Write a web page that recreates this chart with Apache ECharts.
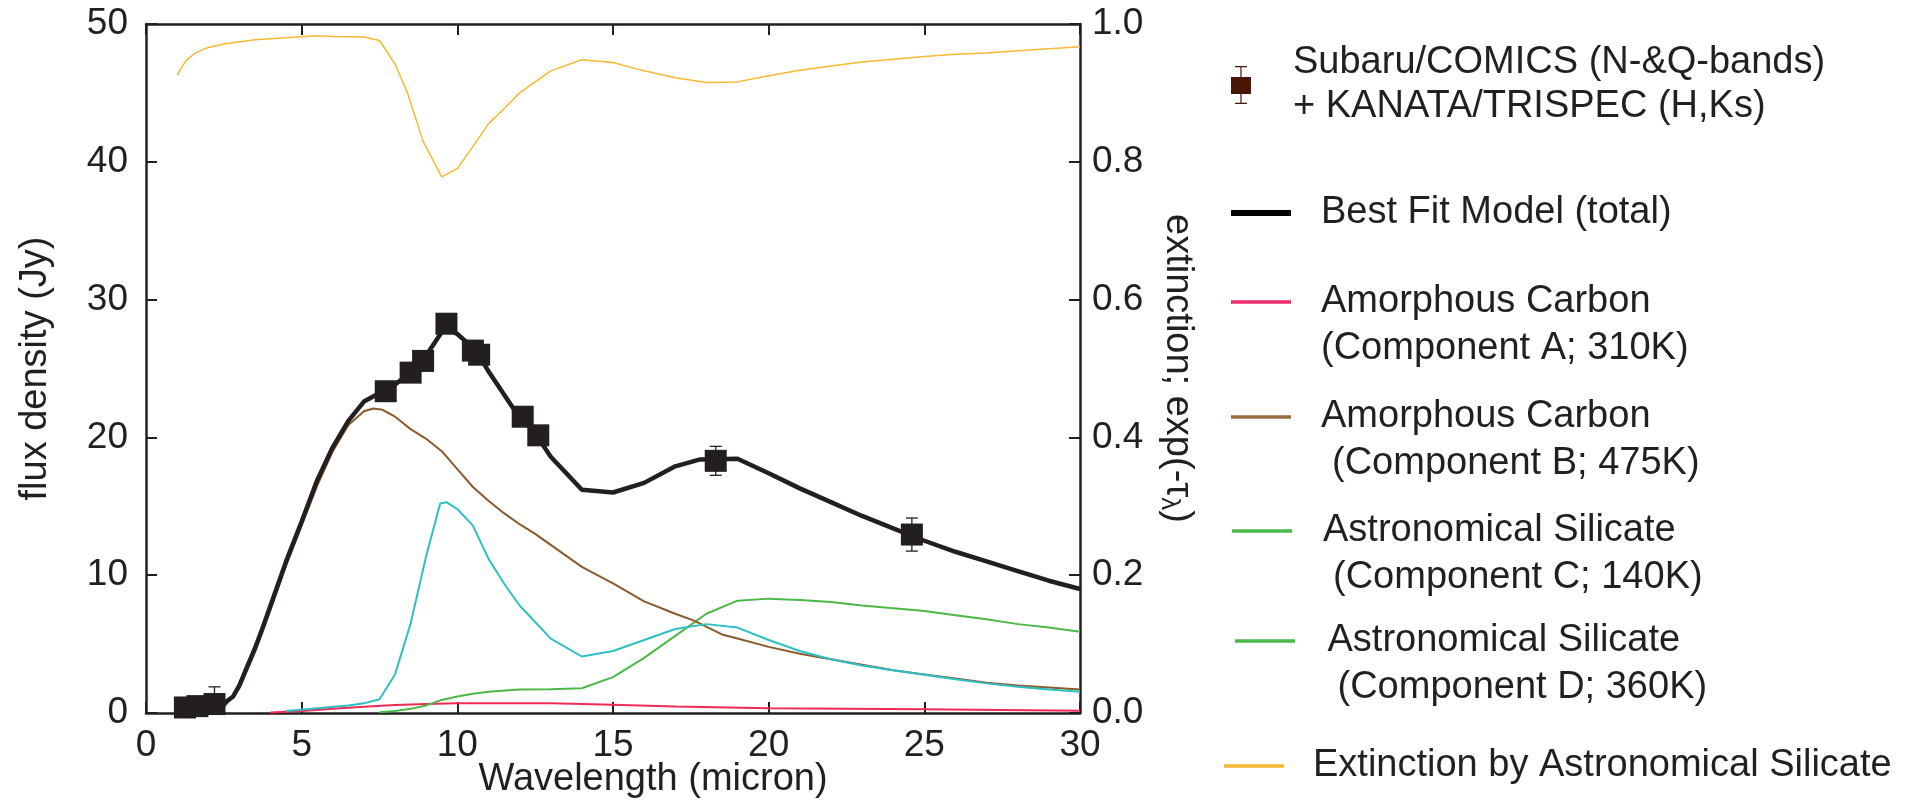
<!DOCTYPE html>
<html><head><meta charset="utf-8">
<script src="https://cdn.jsdelivr.net/npm/echarts@6/dist/echarts.min.js"></script>
<style>html,body{margin:0;padding:0;background:#fff}#c{width:1914px;height:802px}</style>
</head><body><div id="c"></div>
<script>
// ---- data (wavelength in micron, flux in Jy) ----
const xTicks = [0, 5, 10, 15, 20, 25, 30];
const obsX = [1.25, 1.65, 2.2, 7.7, 8.5, 8.9, 9.65, 10.5, 10.7, 12.1, 12.6, 18.3, 24.6];
const obsY = [0.4, 0.5, 0.65, 23.35, 24.7, 25.55, 28.25, 26.3, 26.0, 21.5, 20.15, 18.3, 12.95];
const obsErr = [0, 0, 1.25, 0, 0, 0, 0, 0, 0, 0, 0, 1.05, 1.2];

const modelTotal = [[1.25,0.35],[1.65,0.4],[2.2,0.45],[2.5,0.7],[2.8,1.2],[3.0,2.0],[3.2,3.1],[3.5,4.7],[3.75,6.2],[4.0,7.8],[4.5,11.0],[5.0,13.9],[5.5,16.9],[6.0,19.3],[6.5,21.2],[7.0,22.6],[7.4,23.1],[7.8,23.5],[8.5,24.7],[8.9,25.6],[9.6,28.0],[10.0,27.5],[10.6,26.3],[11.0,24.8],[11.8,22.1],[12.5,20.3],[13.0,18.6],[14.0,16.2],[15.0,16.0],[16.0,16.7],[17.0,17.9],[17.8,18.4],[19.0,18.45],[20.0,17.4],[21.0,16.3],[22.0,15.3],[23.0,14.3],[24.0,13.4],[25.0,12.5],[26.0,11.7],[27.0,11.0],[28.0,10.3],[29.0,9.6],[30.0,9.0]];
const compA = [[4.0,0.03],[5.0,0.15],[6.0,0.3],[7.0,0.45],[8.0,0.58],[9.0,0.66],[10.0,0.7],[12.0,0.7],[13.0,0.7],[14.0,0.66],[15.0,0.6],[17.0,0.48],[20.0,0.35],[25.0,0.27],[30.0,0.17]];
const compB = [[2.5,0.4],[3.0,1.8],[3.5,4.4],[4.0,7.5],[4.5,10.7],[5.0,13.6],[5.5,16.5],[6.0,19.0],[6.5,20.9],[7.0,21.9],[7.3,22.1],[7.6,22.0],[8.0,21.5],[8.5,20.6],[9.0,19.9],[9.5,19.0],[10.0,17.7],[10.5,16.4],[11.0,15.4],[11.5,14.5],[12.0,13.7],[12.5,13.0],[13.0,12.2],[13.5,11.4],[14.0,10.6],[15.0,9.4],[16.0,8.1],[17.0,7.2],[17.6,6.7],[18.5,5.7],[19.0,5.4],[20.0,4.8],[21.0,4.3],[22.0,3.9],[23.0,3.5],[24.0,3.1],[25.0,2.8],[26.0,2.5],[27.0,2.2],[28.0,2.0],[29.0,1.85],[30.0,1.7]];
const compC = [[7.5,0.05],[8.0,0.15],[8.5,0.3],[9.0,0.55],[9.5,0.95],[10.0,1.2],[10.5,1.4],[11.0,1.55],[12.0,1.7],[13.0,1.72],[14.0,1.8],[15.0,2.6],[16.0,4.0],[17.0,5.6],[18.0,7.2],[19.0,8.15],[20.0,8.3],[21.0,8.2],[22.0,8.05],[23.0,7.8],[24.0,7.6],[25.0,7.4],[26.0,7.1],[27.0,6.8],[28.0,6.45],[29.0,6.2],[30.0,5.9]];
const compD = [[4.5,0.15],[5.5,0.35],[6.5,0.55],[7.0,0.7],[7.5,1.0],[8.0,2.8],[8.5,6.5],[9.0,11.4],[9.45,15.2],[9.65,15.3],[10.0,14.8],[10.5,13.6],[11.0,11.2],[11.5,9.4],[12.0,7.8],[12.5,6.6],[13.0,5.4],[14.0,4.1],[15.0,4.5],[16.0,5.3],[17.0,6.1],[18.0,6.45],[19.0,6.2],[20.0,5.3],[21.0,4.5],[22.0,3.9],[23.0,3.45],[24.0,3.1],[25.0,2.78],[26.0,2.45],[27.0,2.15],[28.0,1.9],[29.0,1.7],[30.0,1.55]];
const extinction = [[1.0,0.926],[1.3,0.948],[1.6,0.958],[2.0,0.966],[2.5,0.971],[3.5,0.977],[4.5,0.98],[5.5,0.983],[6.0,0.982],[7.0,0.981],[7.5,0.976],[8.0,0.942],[8.4,0.9],[8.9,0.83],[9.5,0.778],[10.0,0.79],[10.5,0.822],[11.0,0.855],[11.5,0.877],[12.0,0.9],[13.0,0.932],[14.0,0.948],[15.0,0.944],[16.0,0.932],[17.0,0.922],[18.0,0.915],[19.0,0.916],[20.0,0.925],[21.0,0.933],[22.0,0.939],[23.0,0.945],[24.0,0.949],[25.0,0.953],[26.0,0.956],[27.0,0.958],[28.0,0.961],[29.0,0.964],[30.0,0.967]];

const names = {
  obs: 'Subaru/COMICS (N-&Q-bands)\n+ KANATA/TRISPEC (H,Ks)',
  total: 'Best Fit Model (total)',
  A: 'Amorphous Carbon\n(Component A; 310K)',
  B: 'Amorphous Carbon\n(Component B; 475K)',
  C: 'Astronomical Silicate\n(Component C; 140K)',
  D: 'Astronomical Silicate\n(Component D; 360K)',
  ext: 'Extinction by Astronomical Silicate'
};

// ---- styles ----
const FONT = '"Liberation Sans", Arial, Helvetica, sans-serif';
const INK = '#231f20';
const chart = echarts.init(document.getElementById('c'), null, {renderer: 'canvas'});

function spacerRich(widths, lh) {
  const r = {};
  widths.forEach(w => { r['w' + String(w).replace('.', '_')] = {width: w, lineHeight: lh, fontSize: 38, fontFamily: FONT}; });
  return r;
}
function sp(w) { return '{w' + String(w).replace('.', '_') + '|\u00a0}'; }

function makeLegend(name, cfg) {
  const lh = cfg.lh || 47;
  return {
    show: true, selectedMode: false, orient: 'vertical', padding: 0,
    left: cfg.left, top: cfg.top,
    itemWidth: cfg.w, itemHeight: cfg.h,
    icon: cfg.icon,
    data: [{name: name, icon: cfg.icon, itemStyle: {color: cfg.color, borderWidth: 0, opacity: 1}}],
    formatter: cfg.fmt,
    textStyle: {fontSize: 38, fontFamily: FONT, color: INK, lineHeight: lh, rich: spacerRich(cfg.sps, lh)}
  };
}

const obsIcon = 'path://M4,0H16V1.2H4Z M9.4,0H10.6V38H9.4Z M0,11H20V28H0Z M4,36.8H16V38H4Z';

const legends = [
  makeLegend(names.obs, {left: 1231, top: 41, w: 20, h: 38, icon: obsIcon, color: '#4a1608', lh: 44, sps: [37],
    fmt: () => sp(37) + 'Subaru/COMICS (N-&Q-bands)\n' + sp(37) + '+ KANATA/TRISPEC (H,Ks)'}),
  makeLegend(names.total, {left: 1231, top: 189.5, w: 60, h: 6, icon: 'rect', color: '#000000', sps: [25],
    fmt: () => sp(25) + 'Best Fit Model (total)'}),
  makeLegend(names.A, {left: 1231, top: 231.5, w: 60, h: 3.5, icon: 'rect', color: '#ec2d6c', sps: [25],
    fmt: () => '\u00a0\n' + sp(25) + 'Amorphous Carbon\n' + sp(25) + '(Component A; 310K)'}),
  makeLegend(names.B, {left: 1231, top: 346.5, w: 60, h: 3.5, icon: 'rect', color: '#9a6e3a', sps: [25, 36],
    fmt: () => '\u00a0\n' + sp(25) + 'Amorphous Carbon\n' + sp(36) + '(Component B; 475K)'}),
  makeLegend(names.C, {left: 1232, top: 460.5, w: 60, h: 3.5, icon: 'rect', color: '#4cb848', sps: [26, 36],
    fmt: () => '\u00a0\n' + sp(26) + 'Astronomical Silicate\n' + sp(36) + '(Component C; 140K)'}),
  makeLegend(names.D, {left: 1235, top: 570.5, w: 60, h: 3.5, icon: 'rect', color: '#4cb848', sps: [27.5, 37.5],
    fmt: () => '\u00a0\n' + sp(27.5) + 'Astronomical Silicate\n' + sp(37.5) + '(Component D; 360K)'}),
  makeLegend(names.ext, {left: 1224, top: 742.5, w: 60, h: 3.5, icon: 'rect', color: '#f2b631', sps: [24],
    fmt: () => sp(24) + 'Extinction by Astronomical Silicate'})
];

const obsPoints = obsX.map((x, i) => [x, obsY[i]]);
const errPoints = obsX.map((x, i) => [x, obsY[i], obsErr[i]]).filter(d => d[2] > 0);

function lineSeries(name, data, color, width, yAxisIndex, z) {
  return {
    name: name, type: 'line', data: data, yAxisIndex: yAxisIndex || 0,
    showSymbol: false, symbol: 'none', smooth: false, z: z || 2,
    lineStyle: {color: color, width: width, opacity: 1}, itemStyle: {color: color},
    emphasis: {disabled: true}, silent: true, animation: false
  };
}

function axisLine() { return {show: true, onZero: false, lineStyle: {color: INK, width: 2.5}}; }
function axisTick() { return {show: true, inside: true, length: 11, lineStyle: {color: INK, width: 2}}; }
function labelStyle(extra) { return Object.assign({fontSize: 37, fontFamily: FONT, color: INK}, extra); }

const option = {
  backgroundColor: '#ffffff',
  animation: false,
  grid: {left: 146, right: 834, top: 24, bottom: 89, containLabel: false, outerBoundsMode: 'none'},
  legend: legends,
  xAxis: [
    {type: 'value', position: 'bottom', min: xTicks[0], max: xTicks[xTicks.length - 1], interval: 5,
     axisLine: axisLine(), axisTick: axisTick(), splitLine: {show: false},
     axisLabel: labelStyle({margin: 14}),
     name: 'Wavelength (micron)', nameLocation: 'middle', nameGap: 48, nameMoveOverlap: false,
     nameTextStyle: {fontSize: 38, fontFamily: FONT, color: INK, padding: [0, 0, 0, 80]}},
    {type: 'value', position: 'top', min: 0, max: 30, interval: 5,
     axisLine: axisLine(), axisTick: axisTick(), splitLine: {show: false}, axisLabel: {show: false}}
  ],
  yAxis: [
    {type: 'value', position: 'left', min: 0, max: 50, interval: 10,
     axisLine: axisLine(), axisTick: axisTick(), splitLine: {show: false},
     axisLabel: labelStyle({margin: 18}),
     name: 'flux density (Jy)', nameLocation: 'middle', nameGap: 91, nameMoveOverlap: false,
     nameTextStyle: {fontSize: 38, fontFamily: FONT, color: INK}},
    {type: 'value', position: 'right', min: 0, max: 1, interval: 0.2,
     axisLine: axisLine(), axisTick: axisTick(), splitLine: {show: false},
     axisLabel: labelStyle({margin: 12, formatter: v => v.toFixed(1)}),
     name: 'extinction; exp(-τ{sub|λ})', nameLocation: 'middle', nameGap: 76, nameRotate: -90, nameMoveOverlap: false,
     nameTextStyle: {fontSize: 38, fontFamily: FONT, color: INK,
       rich: {sub: {fontSize: 26, fontFamily: FONT, color: INK, verticalAlign: 'bottom', padding: [16, 0, 0, 0]}}}}
  ],
  series: [
    lineSeries(names.ext, extinction, '#f7b932', 1.5, 1, 1),
    lineSeries(names.A, compA, '#ef2b55', 2, 0, 2),
    lineSeries(names.C, compC, '#4cb848', 2, 0, 2),
    lineSeries(names.B, compB, '#8b5a2b', 2, 0, 2),
    lineSeries(names.D, compD, '#2dbfc4', 2, 0, 2),
    lineSeries(names.total, modelTotal, INK, 4.5, 0, 3),
    {
      name: 'errbars', type: 'custom', z: 4, silent: true, data: errPoints,
      renderItem: function (params, api) {
        const x = api.value(0), y = api.value(1), e = api.value(2);
        const top = api.coord([x, y + e]);
        const bot = api.coord([x, Math.max(0, y - e)]);
        const hw = 6;
        const st = {stroke: INK, lineWidth: 1.3, fill: null};
        return {type: 'group', children: [
          {type: 'line', shape: {x1: top[0], y1: top[1], x2: bot[0], y2: bot[1]}, style: st},
          {type: 'line', shape: {x1: top[0] - hw, y1: top[1], x2: top[0] + hw, y2: top[1]}, style: st},
          {type: 'line', shape: {x1: bot[0] - hw, y1: bot[1], x2: bot[0] + hw, y2: bot[1]}, style: st}
        ]};
      }
    },
    {
      name: names.obs, type: 'scatter', data: obsPoints, symbol: 'rect', symbolSize: 22, z: 5,
      itemStyle: {color: INK, opacity: 1}, emphasis: {disabled: true}, silent: true
    }
  ]
};
chart.setOption(option);
</script></body></html>
